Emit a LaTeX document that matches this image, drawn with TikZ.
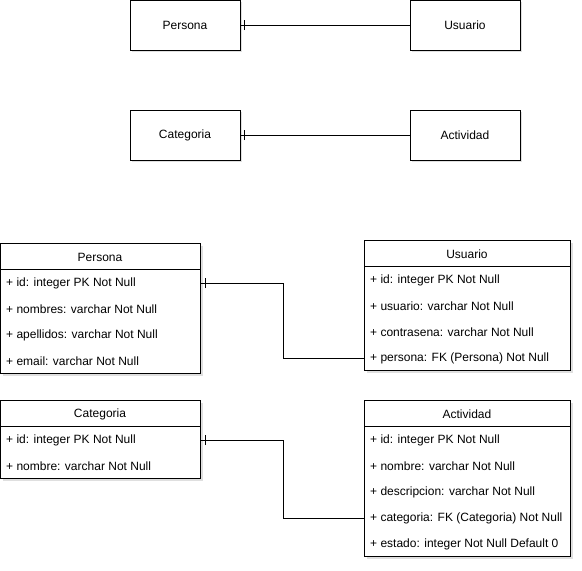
\documentclass[tikz,border=0pt]{standalone}
\usepackage{fontspec}
\setmainfont{Liberation Sans}
\usetikzlibrary{shadows}
\begin{document}
\begin{tikzpicture}[x=1pt,y=-1pt,
  font=\fontsize{12pt}{14pt}\selectfont,
  sh/.style={drop shadow={shadow xshift=2pt,shadow yshift=-2pt,opacity=0.25,fill=gray}},
  ent/.style={draw=black,fill=white,line width=1pt,minimum width=110pt,minimum height=50pt,inner sep=0pt,sh},
  tbl/.style={draw=black,fill=white,line width=1pt,inner sep=0pt,anchor=north west,sh},
  hdr/.style={inner sep=0pt,yshift=-1pt},
  rowt/.style={anchor=west,inner sep=0pt,yshift=-1pt},
  conn/.style={draw=black,line width=1pt},
  tick/.style={draw=black,line width=1pt}
]
\useasboundingbox (0,0) rectangle (582,571);

% Top simple entities
\node[ent] (e1) at (185,25) {Persona};
\node[ent] (e2) at (465,25) {Usuario};
\node[ent] (e3) at (185,135) {Categoria};
\node[ent] (e4) at (465,135) {Actividad};
\draw[conn] (e1.east) -- (e2.west);
\draw[tick] ([xshift=4pt,yshift=-5pt]e1.east) -- ([xshift=4pt,yshift=5pt]e1.east);
\draw[conn] (e3.east) -- (e4.west);
\draw[tick] ([xshift=4pt,yshift=-5pt]e3.east) -- ([xshift=4pt,yshift=5pt]e3.east);

% Persona table
\node[tbl,minimum width=200pt,minimum height=130pt] (pt) at (0,243) {};
\node[hdr] (pth) at (100,256) {Persona};
\draw[line width=1pt] ([yshift=-26pt]pt.north west) -- ([yshift=-26pt]pt.north east);
\node[rowt] (pt1) at (6,282) {+ id: integer PK Not Null};
\node[rowt] (pt2) at (6,308) {+ nombres: varchar Not Null};
\node[rowt] (pt3) at (6,334) {+ apellidos: varchar Not Null};
\node[rowt] (pt4) at (6,360) {+ email: varchar Not Null};

% Usuario table
\node[tbl,minimum width=206pt,minimum height=130pt] (ut) at (364,240) {};
\node[hdr] (uth) at (467,253) {Usuario};
\draw[line width=1pt] ([yshift=-26pt]ut.north west) -- ([yshift=-26pt]ut.north east);
\node[rowt] (ut1) at (370,279) {+ id: integer PK Not Null};
\node[rowt] (ut2) at (370,305) {+ usuario: varchar Not Null};
\node[rowt] (ut3) at (370,331) {+ contrasena: varchar Not Null};
\node[rowt] (ut4) at (370,357) {+ persona: FK (Persona) Not Null};

% Categoria table
\node[tbl,minimum width=200pt,minimum height=78pt] (ct) at (0,400) {};
\node[hdr] (cth) at (100,413) {Categoria};
\draw[line width=1pt] ([yshift=-26pt]ct.north west) -- ([yshift=-26pt]ct.north east);
\node[rowt] (ct1) at (6,439) {+ id: integer PK Not Null};
\node[rowt] (ct2) at (6,465) {+ nombre: varchar Not Null};

% Actividad table
\node[tbl,minimum width=206pt,minimum height=156pt] (at) at (364,400) {};
\node[hdr] (ath) at (467,413) {Actividad};
\draw[line width=1pt] ([yshift=-26pt]at.north west) -- ([yshift=-26pt]at.north east);
\node[rowt] (at1) at (370,439) {+ id: integer PK Not Null};
\node[rowt] (at2) at (370,465) {+ nombre: varchar Not Null};
\node[rowt] (at3) at (370,491) {+ descripcion: varchar Not Null};
\node[rowt] (at4) at (370,517) {+ categoria: FK (Categoria) Not Null};
\node[rowt] (at5) at (370,543) {+ estado: integer Not Null Default 0};

% Connectors
\coordinate (m1) at (283,282);
\coordinate (m2) at (283,439);
\draw[conn] (pt.east |- pt1) -- (m1 |- pt1) |- (ut.west |- ut4);
\draw[tick] ([xshift=4pt,yshift=-5pt]pt.east |- pt1) -- ([xshift=4pt,yshift=5pt]pt.east |- pt1);
\draw[conn] (ct.east |- ct1) -- (m2 |- ct1) |- (at.west |- at4);
\draw[tick] ([xshift=4pt,yshift=-5pt]ct.east |- ct1) -- ([xshift=4pt,yshift=5pt]ct.east |- ct1);
\end{tikzpicture}
\end{document}
